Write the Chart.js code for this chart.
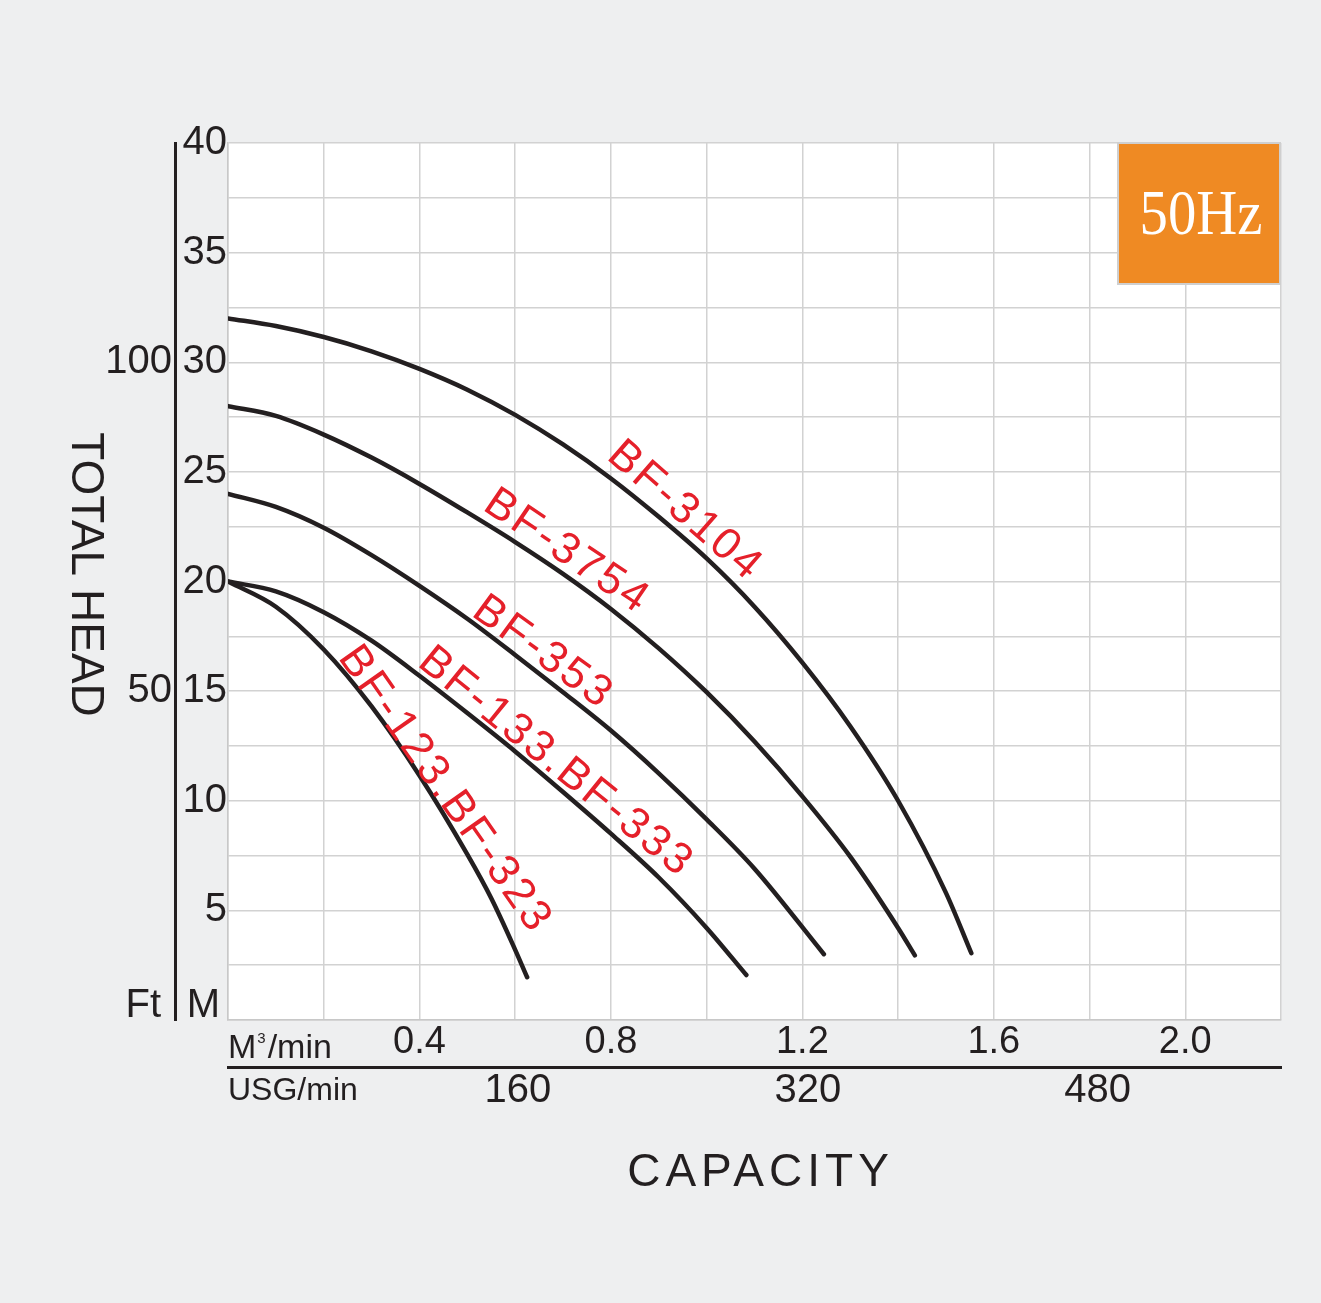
<!DOCTYPE html>
<html>
<head>
<meta charset="utf-8">
<script src="https://cdn.jsdelivr.net/npm/chart.js@4.4.1/dist/chart.umd.min.js"></script>
<style>
  html, body { margin: 0; padding: 0; background: #eeeff0; }
  canvas { display: block; }
</style>
</head>
<body>
<canvas id="myChart" width="1321" height="1303"></canvas>
<script>
// pump models, as printed on the curves
const modelNames = ["BF-3104", "BF-3754", "BF-353", "BF-133.BF-333", "BF-123.BF-323"];

// capacity (m3/min) and total head (m)
const flow3104 = [0, 0.1, 0.2, 0.3, 0.4, 0.5, 0.6, 0.7, 0.8, 0.9, 1.0, 1.1, 1.2, 1.3, 1.4, 1.5, 1.553];
const head3104 = [32.0, 31.65, 31.15, 30.5, 29.7, 28.75, 27.6, 26.25, 24.7, 22.95, 21.05, 18.85, 16.3, 13.4, 10.0, 5.8, 3.05];

const flow3754 = [0, 0.1, 0.2, 0.3, 0.4, 0.5, 0.6, 0.7, 0.8, 0.9, 1.0, 1.1, 1.2, 1.3, 1.4, 1.435];
const head3754 = [28.0, 27.55, 26.7, 25.65, 24.45, 23.15, 21.8, 20.35, 18.75, 16.95, 14.95, 12.7, 10.2, 7.45, 4.2, 2.95];

const flow353 = [0, 0.1, 0.2, 0.3, 0.4, 0.5, 0.6, 0.7, 0.8, 0.9, 1.0, 1.1, 1.245];
const head353 = [24.0, 23.4, 22.45, 21.2, 19.8, 18.3, 16.65, 14.95, 13.2, 11.25, 9.15, 6.9, 3.0];

const flow133 = [0, 0.1, 0.2, 0.3, 0.4, 0.5, 0.6, 0.7, 0.8, 0.9, 1.0, 1.083];
const head133 = [20.0, 19.55, 18.6, 17.3, 15.7, 14.0, 12.25, 10.4, 8.5, 6.5, 4.2, 2.05];

const flow123 = [0, 0.1, 0.2, 0.3, 0.4, 0.5, 0.55, 0.6, 0.625];
const head123 = [20.0, 18.85, 16.9, 14.3, 11.15, 7.55, 5.55, 3.2, 1.95];

// axis labels
const capacityLabels = [0.4, 0.8, 1.2, 1.6, 2.0];
const usgTicks = [160, 320, 480];
const feetTicks = [50, 100];

const flows = [flow3104, flow3754, flow353, flow133, flow123];
const heads = [head3104, head3754, head353, head133, head123];

// where each red model name sits (data units) and its slant
const labelPlaces = [
  { q: 0.955, h: 23.2, angle: 41 },
  { q: 0.708, h: 21.35, angle: 34 },
  { q: 0.658, h: 16.75, angle: 36 },
  { q: 0.685, h: 11.75, angle: 39 },
  { q: 0.453, h: 10.5, angle: 55 },
];

const m3PerGallon = 0.003785411784;
const ink = "#231f20";
const sans = "'Liberation Sans', Arial, sans-serif";

const decor = {
  id: "decor",
  beforeDraw(chart) {
    const { ctx, chartArea: a } = chart;
    ctx.save();
    ctx.fillStyle = "#eeeff0";
    ctx.fillRect(0, 0, chart.width, chart.height);
    ctx.fillStyle = "#ffffff";
    ctx.fillRect(a.left, a.top, a.right - a.left, a.bottom - a.top);
    ctx.restore();
  },
  afterDatasetsDraw(chart) {
    const { ctx } = chart;
    const x = chart.scales.x;
    const y = chart.scales.y;
    ctx.save();
    ctx.font = "44px " + sans;
    ctx.letterSpacing = "3px";
    ctx.fillStyle = "#e5202a";
    ctx.textAlign = "center";
    ctx.textBaseline = "middle";
    labelPlaces.forEach((p, i) => {
      ctx.save();
      ctx.translate(x.getPixelForValue(p.q), y.getPixelForValue(p.h));
      ctx.rotate((p.angle * Math.PI) / 180);
      ctx.fillText(modelNames[i], 0, 0);
      ctx.restore();
    });
    ctx.restore();
  },
  afterDraw(chart) {
    const { ctx, chartArea: a } = chart;
    ctx.save();
    ctx.fillStyle = ink;

    // vertical title, reads top to bottom
    ctx.save();
    ctx.font = "46px " + sans;
    ctx.textAlign = "center";
    ctx.textBaseline = "middle";
    ctx.translate(a.left - 143, (a.top + a.bottom) / 2 - 7);
    ctx.rotate(Math.PI / 2);
    ctx.fillText("TOTAL HEAD", 0, 0);
    ctx.restore();

    // unit marks under the head scales
    ctx.font = "40px " + sans;
    ctx.textAlign = "right";
    ctx.textBaseline = "alphabetic";
    ctx.fillText("M", a.left - 8, a.bottom - 3);
    ctx.fillText("Ft", a.left - 67, a.bottom - 3);

    // capacity units
    ctx.textAlign = "left";
    ctx.font = "34px " + sans;
    ctx.fillText("M", a.left, a.bottom + 38);
    let cx = a.left + ctx.measureText("M").width;
    ctx.font = "15px " + sans;
    ctx.fillText("3", cx + 1, a.bottom + 23);
    cx += ctx.measureText("3").width + 3;
    ctx.font = "34px " + sans;
    ctx.fillText("/min", cx, a.bottom + 38);
    ctx.font = "32px " + sans;
    ctx.fillText("USG/min", a.left, a.bottom + 80);

    // axis title
    ctx.font = "46px " + sans;
    ctx.letterSpacing = "5px";
    ctx.textAlign = "center";
    ctx.fillText("CAPACITY", (a.left + a.right) / 2 + 6, a.bottom + 166);
    ctx.letterSpacing = "0px";

    // frequency badge
    ctx.fillStyle = "#ef8a23";
    ctx.fillRect(a.right - 163, a.top, 162, 141);
    ctx.strokeStyle = "#cfcfcf";
    ctx.lineWidth = 2;
    ctx.strokeRect(a.right - 163, a.top, 162, 141);
    ctx.save();
    ctx.translate(a.right - 80, a.top + 91);
    ctx.scale(0.9, 1);
    ctx.fillStyle = "#ffffff";
    ctx.font = "63px 'Liberation Serif', 'Times New Roman', serif";
    ctx.textAlign = "center";
    ctx.fillText("50Hz", 0, 0);
    ctx.restore();

    ctx.restore();
  },
};

const canvas = document.getElementById("myChart");
new Chart(canvas, {
  type: "line",
  data: {
    datasets: modelNames.map((name, i) => ({
      label: name,
      data: flows[i].map((q, j) => ({ x: q, y: heads[i][j] })),
      xAxisID: "x",
      yAxisID: "y",
      borderColor: ink,
      borderWidth: 4.5,
      borderCapStyle: "round",
      pointRadius: 0,
      cubicInterpolationMode: "monotone",
      fill: false,
    })),
  },
  options: {
    responsive: false,
    devicePixelRatio: 1,
    animation: false,
    events: [],
    layout: { padding: { left: 100, top: 143, right: 40, bottom: 176 } },
    plugins: { legend: { display: false }, tooltip: { enabled: false } },
    scales: {
      x: {
        type: "linear",
        position: "bottom",
        min: 0,
        max: 2.2,
        afterFit: (s) => { s.height = 47; },
        grid: { color: "#d2d2d2", lineWidth: 1.5, drawTicks: false },
        border: { display: true, color: "#c8c8c8", width: 1.5 },
        ticks: {
          stepSize: 0.2,
          autoSkip: false,
          maxRotation: 0,
          padding: 0,
          color: ink,
          font: { family: sans, size: 38 },
          callback: (v) => (capacityLabels.some((c) => Math.abs(c - v) < 1e-6) ? v.toFixed(1) : ""),
        },
      },
      xu: {
        type: "linear",
        position: "bottom",
        min: 0,
        max: 2.2 / m3PerGallon,
        afterBuildTicks: (s) => { s.ticks = usgTicks.map((v) => ({ value: v })); },
        afterFit: (s) => { s.height = 60; },
        grid: { display: false, drawTicks: false },
        border: { display: true, color: ink, width: 3 },
        ticks: {
          autoSkip: false,
          maxRotation: 0,
          padding: 0,
          color: ink,
          font: { family: sans, size: 40 },
          callback: (v) => String(v),
        },
      },
      y: {
        type: "linear",
        position: "left",
        min: 0,
        max: 40,
        afterFit: (s) => { s.width = 53; },
        grid: { color: "#d2d2d2", lineWidth: 1.5, drawTicks: false },
        border: { display: true, color: "#c8c8c8", width: 1.5 },
        ticks: {
          stepSize: 2.5,
          autoSkip: false,
          padding: 1,
          color: ink,
          font: { family: sans, size: 40 },
          callback: (v) => (v > 0 && v % 5 === 0 ? String(v) : ""),
        },
      },
      yft: {
        type: "linear",
        position: "left",
        min: 0,
        max: (40 * 100) / 30,
        afterBuildTicks: (s) => { s.ticks = feetTicks.map((v) => ({ value: v })); },
        afterFit: (s) => { s.width = 75; },
        grid: { display: false, drawTicks: false },
        border: { display: true, color: ink, width: 3 },
        ticks: {
          autoSkip: false,
          padding: 3,
          color: ink,
          font: { family: sans, size: 40 },
          callback: (v) => String(v),
        },
      },
    },
  },
  plugins: [decor],
});
</script>
</body>
</html>
